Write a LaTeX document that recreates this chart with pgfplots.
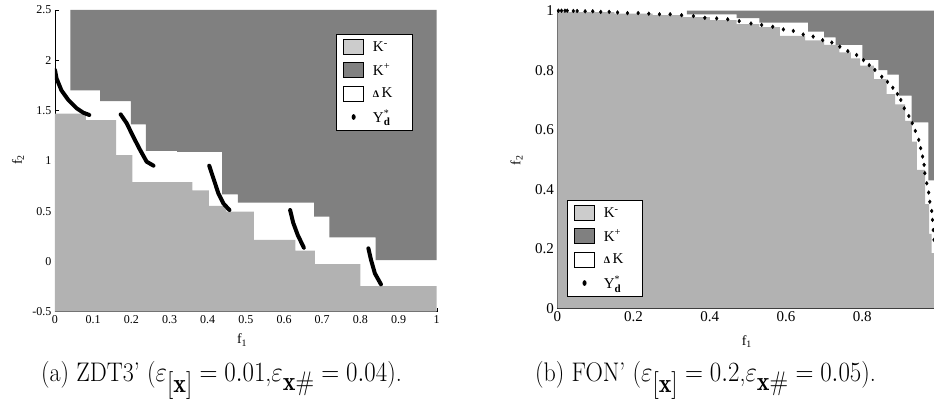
\documentclass[border=0pt]{standalone}
\usepackage{pgfplots}
\pgfplotsset{compat=1.18}
\usepackage{fontspec}
\usepackage{graphicx}
\newfontfamily\timesfont{Liberation Serif}
\definecolor{kminus}{gray}{0.70}
\definecolor{kplus}{gray}{0.50}
\definecolor{kminusleg}{gray}{0.80}
\newcommand{\legtext}[1]{\makebox[30pt][l]{#1}}
\newcommand{\ydstar}{$\mbox{\timesfont Y}^{\mbox{\timesfont\fontsize{10}{10}\selectfont *}}_{\mbox{\timesfont\fontsize{11}{11}\selectfont\bfseries d}}$}
\pgfplotsset{
  refstyle/.style={
    scale only axis, enlargelimits=false, anchor=south west,
    axis x line*=bottom, axis y line*=left,
    axis line style={-, black, line width=0.5pt},
    tick style={black, line width=0.4pt},
    major tick length=4pt,
    /pgf/number format/assume math mode=true,
    legend cell align=left,
  },
  legbox/.style={draw=black, line width=0.8pt, fill=white,
    font=\timesfont\fontsize{15}{15}\selectfont, inner xsep=7pt, inner ysep=5pt, row sep=7pt,
    /tikz/every odd column/.append style={column sep=7pt}},
  patch/.style={legend image code/.code={\draw[fill=#1, draw=black, line width=0.6pt] (0pt,-7.5pt) rectangle (20pt,7.5pt);}},
  dotleg/.style={legend image code/.code={\fill[black] (10pt,0pt) ellipse (1.6pt and 2.4pt);}},
}
\begin{document}
\begin{tikzpicture}[x=1pt,y=1pt]
\useasboundingbox (0,0) rectangle (934,403);
% ---------------- (a) ZDT3'
\begin{axis}[refstyle, at={(55pt,91.3pt)}, width=381.7pt, height=301.7pt,
  xmin=0, xmax=1, ymin=-0.5, ymax=2.5,
  xtick={0,0.1,0.2,0.3,0.4,0.5,0.6,0.7,0.8,0.9,1},
  ytick={-0.5,0,0.5,1,1.5,2,2.5},
  tick label style={font=\timesfont\fontsize{12}{12}\selectfont},
  xlabel={\timesfont\fontsize{14}{14}\selectfont f\textsubscript{1}},
  ylabel={\timesfont\fontsize{14}{14}\selectfont f\textsubscript{2}},
  xlabel style={at={(axis description cs:0.49,-0.094)}, anchor=center},
  ylabel style={at={(axis description cs:-0.097,0.503)}, anchor=center},
  legend style={legbox, at={(axis cs:0.736,2.262)}, anchor=north west},
]
\addplot[forget plot, fill=kplus, draw=none] coordinates {
(0.04,2.5) (0.04,1.70) (0.118,1.70) (0.118,1.595) (0.199,1.595) (0.199,1.363) (0.238,1.363)
(0.238,1.10) (0.32,1.10) (0.32,1.09) (0.438,1.09) (0.438,0.667) (0.479,0.667) (0.479,0.584)
(0.679,0.584) (0.679,0.445) (0.719,0.445) (0.719,0.239) (0.840,0.239) (0.840,0.012) (1,0.012) (1,2.5)} -- cycle;
\addplot[forget plot, fill=kminus, draw=none] coordinates {
(0,-0.5) (0,1.469) (0.081,1.469) (0.081,1.406) (0.160,1.406) (0.160,1.058) (0.203,1.058)
(0.203,0.789) (0.360,0.789) (0.360,0.707) (0.403,0.707) (0.403,0.551) (0.449,0.551) (0.449,0.494)
(0.521,0.494) (0.521,0.213) (0.630,0.213) (0.630,0.107) (0.681,0.107) (0.681,-0.026)
(0.800,-0.026) (0.800,-0.245) (1,-0.245) (1,-0.5)} -- cycle;
\addplot[forget plot, black, line width=4pt, line cap=round] coordinates {
(0,1.903) (0.004,1.82) (0.017,1.70) (0.035,1.605) (0.057,1.522) (0.074,1.479) (0.09,1.456)};
\addplot[forget plot, black, line width=4pt, line cap=round] coordinates {
(0.172,1.462) (0.188,1.373) (0.205,1.24) (0.223,1.108) (0.240,0.992) (0.258,0.952)};
\addplot[forget plot, black, line width=4pt, line cap=round] coordinates {
(0.404,0.952) (0.415,0.826) (0.428,0.677) (0.441,0.577) (0.457,0.511)};
\addplot[forget plot, black, line width=4pt, line cap=round] coordinates {
(0.616,0.511) (0.624,0.385) (0.636,0.262) (0.652,0.136)};
\addplot[forget plot, black, line width=4pt, line cap=round] coordinates {
(0.821,0.130) (0.828,0.014) (0.838,-0.119) (0.854,-0.228)};
\addlegendimage{patch=kminusleg}\addlegendentry{\legtext{K\textsuperscript{-}}}
\addlegendimage{patch=kplus}\addlegendentry{\legtext{K\textsuperscript{+}}}
\addlegendimage{patch=white}\addlegendentry{\legtext{\textbf{\fontsize{10}{10}\selectfont Δ}\,K}}
\addlegendimage{dotleg}\addlegendentry{\legtext{\ydstar}}
\end{axis}
% ---------------- (b) FON'
\begin{axis}[refstyle, at={(557.3pt,94.7pt)}, width=376.7pt, height=297.6pt,
  xmin=0, xmax=0.988, ymin=0, ymax=1,
  xtick={0,0.2,0.4,0.6,0.8},
  ytick={0,0.2,0.4,0.6,0.8,1},
  tick label style={font=\timesfont\fontsize{15}{15}\selectfont},
  xlabel={\timesfont\fontsize{14}{14}\selectfont f\textsubscript{1}},
  ylabel={\timesfont\fontsize{14}{14}\selectfont f\textsubscript{2}},
  xlabel style={at={(axis description cs:0.503,-0.112)}, anchor=center},
  ylabel style={at={(axis description cs:-0.108,0.498)}, anchor=center},
  legend style={legbox, at={(axis cs:0.025,0.364)}, anchor=north west},
]
\addplot[forget plot, fill=kplus, draw=none] coordinates {
(0.34,1) (0.34,0.988) (0.47,0.988) (0.47,0.975) (0.53,0.975) (0.53,0.96) (0.658,0.96)
(0.658,0.93) (0.70,0.93) (0.70,0.91) (0.73,0.91) (0.73,0.885) (0.80,0.885) (0.80,0.835)
(0.842,0.835) (0.842,0.80) (0.866,0.80) (0.866,0.785) (0.896,0.785) (0.896,0.715)
(0.929,0.715) (0.929,0.625) (0.973,0.625) (0.973,0.43) (0.988,0.43) (0.988,1)} -- cycle;
\addplot[forget plot, fill=kminus, draw=none] coordinates {
(0,0) (0,0.995) (0.15,0.995) (0.15,0.99) (0.25,0.99) (0.25,0.985) (0.33,0.985) (0.33,0.978)
(0.40,0.978) (0.40,0.968) (0.47,0.968) (0.47,0.955) (0.53,0.955) (0.53,0.945) (0.584,0.945)
(0.584,0.915) (0.65,0.915) (0.65,0.90) (0.70,0.90) (0.70,0.885) (0.74,0.885) (0.74,0.86)
(0.77,0.86) (0.77,0.84) (0.794,0.84) (0.794,0.815) (0.83,0.815) (0.83,0.77) (0.864,0.77)
(0.864,0.72) (0.886,0.72) (0.886,0.685) (0.912,0.685) (0.912,0.63) (0.93,0.63) (0.93,0.56)
(0.943,0.56) (0.943,0.465) (0.965,0.465) (0.965,0.35) (0.975,0.35) (0.975,0.25) (0.982,0.25)
(0.982,0.185) (0.988,0.185) (0.988,0)} -- cycle;
\addplot[forget plot, only marks, mark=diamond*, mark size=1.9pt, black] coordinates {
(0.003,1.0) (0.011,1.0) (0.020,1.0) (0.026,1.0) (0.042,0.999) (0.052,0.999) (0.073,0.998)
(0.093,0.998) (0.114,0.996) (0.136,0.996) (0.158,0.994) (0.184,0.992) (0.212,0.992)
(0.240,0.990) (0.268,0.988) (0.296,0.988) (0.326,0.985) (0.357,0.982) (0.387,0.976)
(0.418,0.974) (0.447,0.971) (0.477,0.965) (0.508,0.957) (0.536,0.952) (0.565,0.946)
(0.593,0.937) (0.619,0.932) (0.645,0.920) (0.671,0.913) (0.696,0.901) (0.720,0.893)
(0.741,0.879) (0.762,0.864) (0.785,0.851) (0.803,0.834) (0.818,0.817) (0.833,0.801)
(0.851,0.778) (0.866,0.761) (0.880,0.741) (0.892,0.720) (0.901,0.700) (0.910,0.672)
(0.922,0.646) (0.931,0.622) (0.939,0.596) (0.948,0.566) (0.953,0.538) (0.958,0.510)
(0.962,0.482) (0.964,0.454) (0.969,0.420) (0.974,0.389) (0.977,0.358) (0.982,0.327)
(0.984,0.297) (0.986,0.263) (0.988,0.230)};
\addlegendimage{patch=kminusleg}\addlegendentry{\legtext{K\textsuperscript{-}}}
\addlegendimage{patch=kplus}\addlegendentry{\legtext{K\textsuperscript{+}}}
\addlegendimage{patch=white}\addlegendentry{\legtext{\textbf{\fontsize{10}{10}\selectfont Δ}\,K}}
\addlegendimage{dotleg}\addlegendentry{\legtext{\ydstar}}
\end{axis}
% ---------------- captions
\node[anchor=base west, inner sep=0pt] at (41,21.3) {\scalebox{1}[1.12]{\fontsize{24}{28}\selectfont (a) ZDT3' ($\varepsilon_{\textstyle[\mathbf{x}]}=0.01$,$\varepsilon_{\textstyle\mathbf{x}\#}=0.04$).}};
\node[anchor=base west, inner sep=0pt] at (535,21.3) {\scalebox{1}[1.12]{\fontsize{24}{28}\selectfont (b) FON' ($\varepsilon_{\textstyle[\mathbf{x}]}=0.2$,$\varepsilon_{\textstyle\mathbf{x}\#}=0.05$).}};
\end{tikzpicture}
\end{document}
